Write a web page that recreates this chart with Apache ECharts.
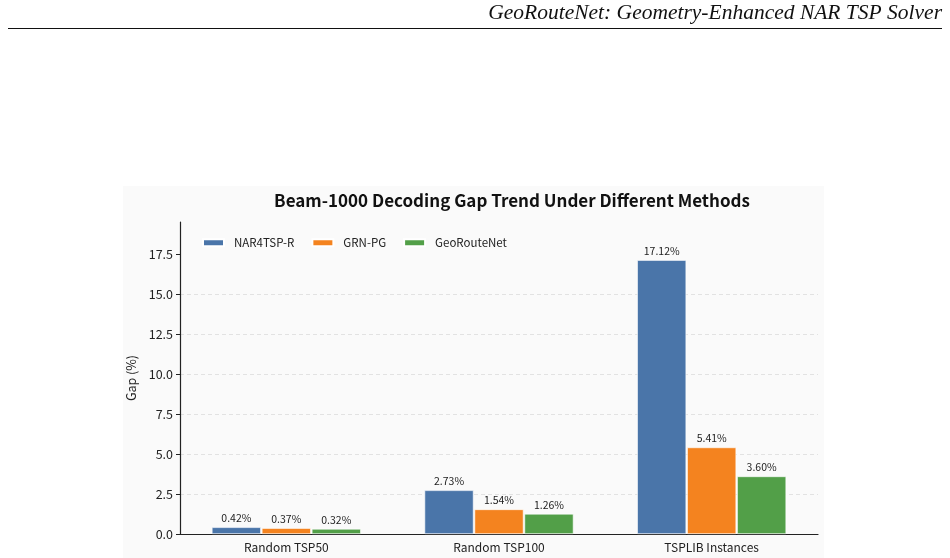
<!DOCTYPE html>
<html>
<head>
<meta charset="utf-8">
<script src="https://cdn.jsdelivr.net/npm/echarts@6/dist/echarts.min.js"></script>
<style>
  html, body { margin: 0; padding: 0; background: #fff; }
  #chart { width: 950px; height: 558px; }
</style>
</head>
<body>
<div id="chart"></div>
<script>
// data
const categories = ['Random TSP50', 'Random TSP100', 'TSPLIB Instances']
const nar4tspR = [0.42, 2.73, 17.12]
const grnPG = [0.37, 1.54, 5.41]
const geoRouteNet = [0.32, 1.26, 3.60]
const yTicks = [0, 2.5, 5, 7.5, 10, 12.5, 15, 17.5]

const colors = ['#4a75a9', '#f4831f', '#529f48']
const font = '"Noto Sans CJK SC", "Noto Sans", sans-serif'

const chart = echarts.init(document.getElementById('chart'))

function barSeries(name, data, color) {
	return {
		name: name,
		type: 'bar',
		data: data,
		barWidth: 49,
		barGap: '2%',
		itemStyle: { color: color, borderColor: '#fff', borderWidth: 0.6 },
		label: {
			show: true,
			position: 'top',
			distance: 4,
			fontFamily: font,
			fontSize: 10.5,
			color: '#222',
			formatter: p => p.value.toFixed(2) + '%'
		},
		animation: false
	}
}

chart.setOption({
	backgroundColor: '#fff',
	textStyle: { fontFamily: font },
	graphic: [
		{ // page header
			type: 'text', x: 942, y: 13,
			style: {
				text: 'GeoRouteNet: Geometry-Enhanced NAR TSP Solver',
				fontFamily: '"Liberation Serif", "DejaVu Serif", serif',
				fontStyle: 'italic', fontSize: 21.5, fill: '#111',
				align: 'right', verticalAlign: 'middle'
			}
		},
		{
			type: 'line',
			shape: { x1: 8, y1: 28.5, x2: 942, y2: 28.5 },
			style: { stroke: '#111', lineWidth: 1.2 }
		},
		{ // figure background
			type: 'rect', z: -10,
			shape: { x: 123, y: 186, width: 701, height: 372 },
			style: { fill: '#fafafa' }
		},
		{
			type: 'text', x: 512, y: 201,
			style: {
				text: 'Beam-1000 Decoding Gap Trend Under Different Methods',
				fontFamily: font, fontWeight: 'bold', fontSize: 17, fill: '#111',
				align: 'center', verticalAlign: 'middle'
			}
		}
	],
	legend: {
		left: 197,
		top: 232,
		icon: 'rect',
		itemWidth: 21,
		itemHeight: 7,
		itemGap: 17,
		textStyle: { fontFamily: font, fontSize: 11.5, color: '#222', padding: [0, 0, 0, 5] },
		data: ['NAR4TSP-R', 'GRN-PG', 'GeoRouteNet']
	},
	grid: { left: 180, right: 132, top: 222, bottom: 24 },
	xAxis: {
		type: 'category',
		data: categories,
		axisLine: { lineStyle: { color: '#222', width: 1.2 } },
		axisTick: { show: false },
		axisLabel: { fontFamily: font, fontSize: 12, color: '#222', margin: 7 }
	},
	yAxis: {
		type: 'value',
		min: 0,
		max: 19.5,
		interval: 2.5,
		name: 'Gap (%)',
		nameLocation: 'middle',
		nameGap: 32,
		nameTextStyle: { fontFamily: font, fontSize: 12.5, color: '#222' },
		axisLine: { show: true, lineStyle: { color: '#222', width: 1.2 } },
		axisTick: { show: true, length: 4, lineStyle: { color: '#222' }, customValues: yTicks },
		axisLabel: {
			fontFamily: font, fontSize: 12.5, color: '#222', margin: 7,
			customValues: yTicks,
			formatter: v => v.toFixed(1)
		},
		splitLine: {
			show: true,
			showMinLine: false,
			showMaxLine: false,
			lineStyle: { color: '#dcdcdc', width: 0.8, type: [4, 3] }
		}
	},
	series: [
		barSeries('NAR4TSP-R', nar4tspR, colors[0]),
		barSeries('GRN-PG', grnPG, colors[1]),
		barSeries('GeoRouteNet', geoRouteNet, colors[2])
	]
})
</script>
</body>
</html>
